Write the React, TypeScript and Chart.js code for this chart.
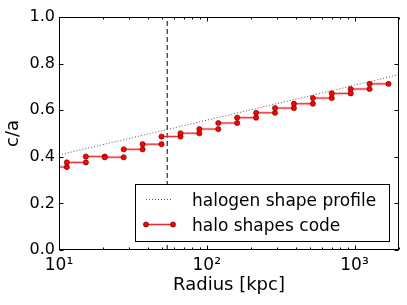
import React, { useEffect, useRef } from "react";
import { Chart, registerables } from "chart.js";

Chart.register(...registerables);

// ---- data ----
const binEdges = [8.4, 11.3, 15.2, 20.4, 27.4, 36.8, 49.4, 66.4, 89.1, 119.7, 160.7, 215.8, 289.7, 389.0, 522.4, 701.5, 941.9, 1264.7, 1698.2];
const shapeValues = [0.356, 0.376, 0.401, 0.398, 0.432, 0.454, 0.487, 0.501, 0.519, 0.545, 0.568, 0.589, 0.609, 0.628, 0.652, 0.672, 0.691, 0.713];
const profileRadii = [10, 100, 1000, 2000];
const profileValues = [0.408, 0.557, 0.707, 0.753];
const dividerRadius = 54;
const xTickValues = [10, 100, 1000];
const xTickLabels = ["10¹", "10²", "10³"];
const yTickValues = [0, 0.2, 0.4, 0.6, 0.8, 1.0];
const legendLabels = ["halogen shape profile", "halo shapes code"];
const xTitle = "Radius [kpc]";
const yTitle = "c/a";

const FONT = "'DejaVu Sans', sans-serif";
const MARKER_FILL = "#ff0000";
const MARKER_EDGE = "#500";

function minorXTicks(): number[] {
  const out: number[] = [];
  for (const d of [10, 100, 1000]) {
    for (let k = 2; k <= 9; k++) {
      const v = d * k;
      if (v <= 2000) out.push(v);
    }
  }
  return out;
}

const framePlugin = {
  id: "frameTicks",
  afterDatasetsDraw(chart: any) {
    const { ctx, chartArea } = chart;
    const xs = chart.scales.x;
    const ys = chart.scales.y;
    const L = Math.round(chartArea.left) + 0.5;
    const R = Math.round(chartArea.right) - 0.5;
    const T = Math.round(chartArea.top) + 0.5;
    const B = Math.round(chartArea.bottom) - 0.5;
    ctx.save();
    ctx.strokeStyle = "#000";
    ctx.lineWidth = 1;
    ctx.setLineDash([]);
    ctx.beginPath();
    const xt = (v: number, len: number) => {
      const px = Math.round(xs.getPixelForValue(v)) + 0.5;
      ctx.moveTo(px, B);
      ctx.lineTo(px, B - len);
      ctx.moveTo(px, T);
      ctx.lineTo(px, T + len);
    };
    xTickValues.forEach((v) => xt(v, 4));
    minorXTicks().forEach((v) => xt(v, 2));
    yTickValues.forEach((v) => {
      const py = Math.round(ys.getPixelForValue(v)) + 0.5;
      ctx.moveTo(L, py);
      ctx.lineTo(L + 4, py);
      ctx.moveTo(R, py);
      ctx.lineTo(R - 4, py);
    });
    ctx.stroke();
    ctx.strokeRect(L, T, R - L, B - T);
    ctx.restore();
  },
};

const legendPlugin = {
  id: "insideLegend",
  afterDraw(chart: any) {
    const { ctx } = chart;
    ctx.save();
    const bx = 135.5, by = 184.5, bw = 254, bh = 57;
    ctx.fillStyle = "#fff";
    ctx.fillRect(bx, by, bw, bh);
    ctx.strokeStyle = "#000";
    ctx.lineWidth = 1;
    ctx.setLineDash([]);
    ctx.strokeRect(bx, by, bw, bh);

    const x0 = 146, x1 = 173;
    // row 1: dotted profile
    ctx.strokeStyle = "rgba(60,60,60,0.85)";
    ctx.setLineDash([1, 2]);
    ctx.beginPath();
    ctx.moveTo(x0, 199.5);
    ctx.lineTo(x1, 199.5);
    ctx.stroke();
    ctx.setLineDash([]);

    // row 2: red line with markers
    const y2 = 224.5;
    ctx.strokeStyle = "rgba(255,120,120,0.6)";
    ctx.lineWidth = 2.5;
    ctx.beginPath();
    ctx.moveTo(x0, y2);
    ctx.lineTo(x1, y2);
    ctx.stroke();
    ctx.strokeStyle = "rgba(235,0,0,0.85)";
    ctx.lineWidth = 0.9;
    ctx.beginPath();
    ctx.moveTo(x0, y2);
    ctx.lineTo(x1, y2);
    ctx.stroke();
    [x0, x1].forEach((x) => {
      ctx.beginPath();
      ctx.arc(x, y2, 2.6, 0, Math.PI * 2);
      ctx.fillStyle = MARKER_FILL;
      ctx.fill();
      ctx.lineWidth = 0.6;
      ctx.strokeStyle = MARKER_EDGE;
      ctx.stroke();
    });

    ctx.fillStyle = "#000";
    ctx.font = `17px ${FONT}`;
    ctx.textAlign = "left";
    ctx.textBaseline = "alphabetic";
    ctx.fillText(legendLabels[0], 192, 206);
    ctx.fillText(legendLabels[1], 192, 230.7);
    ctx.restore();
  },
};

export default function App() {
  const ref = useRef<HTMLCanvasElement | null>(null);

  useEffect(() => {
    if (!ref.current) return;

    const stepData: any[] = [];
    for (let i = 0; i < shapeValues.length; i++) {
      stepData.push({ x: binEdges[i], y: shapeValues[i] });
      stepData.push({ x: binEdges[i + 1], y: shapeValues[i] });
      stepData.push({ x: binEdges[i + 1], y: null });
    }
    const profileData = profileRadii.map((r, i) => ({ x: r, y: profileValues[i] }));
    const dividerData = [
      { x: dividerRadius, y: 0 },
      { x: dividerRadius, y: 1 },
    ];

    const chart = new Chart(ref.current, {
      type: "line",
      data: {
        datasets: [
          {
            label: legendLabels[1],
            data: stepData,
            borderColor: "rgba(235,0,0,0.85)",
            borderWidth: 0.9,
            pointRadius: 2.6,
            pointBackgroundColor: MARKER_FILL,
            pointBorderColor: MARKER_EDGE,
            pointBorderWidth: 0.6,
            spanGaps: false,
            order: 1,
          } as any,
          {
            label: "band",
            data: stepData,
            borderColor: "rgba(255,120,120,0.6)",
            borderWidth: 2.5,
            pointRadius: 0,
            spanGaps: false,
            order: 2,
          } as any,
          {
            label: legendLabels[0],
            data: profileData,
            borderColor: "rgba(60,60,60,0.85)",
            borderWidth: 1,
            borderDash: [1, 2],
            pointRadius: 0,
            order: 3,
          } as any,
          {
            label: "divider",
            data: dividerData,
            borderColor: "#000",
            borderWidth: 1,
            borderDash: [5, 3],
            pointRadius: 0,
            order: 4,
          } as any,
        ],
      },
      options: {
        animation: false,
        responsive: false,
        devicePixelRatio: 1,
        layout: { padding: { top: 17, right: 8, left: 0, bottom: 0 } },
        plugins: {
          legend: { display: false },
          tooltip: { enabled: false },
        },
        scales: {
          x: {
            type: "logarithmic",
            position: "bottom",
            min: 10,
            max: 2000,
            grid: { display: false, drawTicks: false },
            border: { display: false },
            afterBuildTicks: (s: any) => {
              s.ticks = xTickValues.map((v) => ({ value: v }));
            },
            afterFit: (s: any) => {
              s.height = 55;
            },
            ticks: {
              autoSkip: false,
              maxRotation: 0,
              padding: 5,
              color: "#000",
              font: { family: FONT, size: 17 },
              callback: (v: any) => {
                const i = xTickValues.indexOf(Number(v));
                return i >= 0 ? xTickLabels[i] : "";
              },
            },
            title: {
              display: true,
              text: xTitle,
              color: "#000",
              font: { family: FONT, size: 18 },
              padding: { top: 0, bottom: 9 },
            },
          },
          y: {
            type: "linear",
            min: 0,
            max: 1,
            grid: { display: false, drawTicks: false },
            border: { display: false },
            afterBuildTicks: (s: any) => {
              s.ticks = yTickValues.map((v) => ({ value: v }));
            },
            afterFit: (s: any) => {
              s.width = 59;
            },
            ticks: {
              padding: 4,
              color: "#000",
              font: { family: FONT, size: 16 },
              callback: (v: any) => Number(v).toFixed(1),
            },
            title: {
              display: true,
              text: yTitle,
              color: "#000",
              font: { family: FONT, size: 18 },
              padding: { top: 3, bottom: 0 },
            },
          },
        },
      },
      plugins: [framePlugin, legendPlugin],
    });

    return () => chart.destroy();
  }, []);

  return (
    <div style={{ position: "absolute", left: 0, top: 0, width: 407, height: 305, background: "#fff" }}>
      <canvas ref={ref} width={407} height={305} style={{ display: "block" }} />
    </div>
  );
}
